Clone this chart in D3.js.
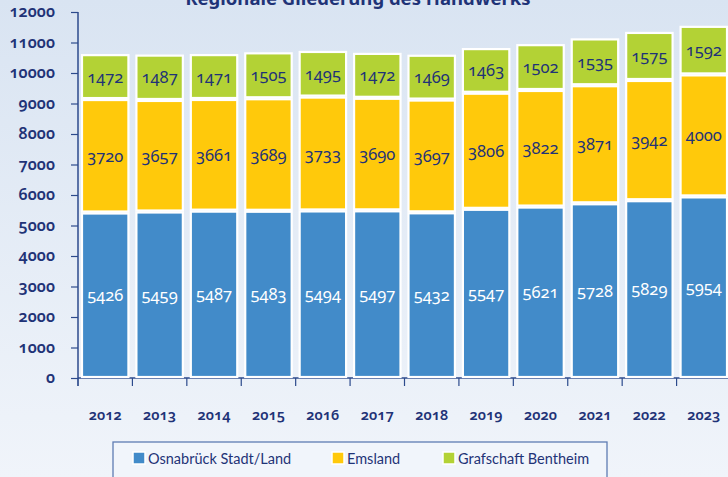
<!DOCTYPE html>
<html>
<head>
<meta charset="utf-8">
<script src="https://cdn.jsdelivr.net/npm/d3@7"></script>
<style>
  html, body { margin: 0; padding: 0; }
  body { width: 728px; height: 477px; overflow: hidden; }
  svg text { font-family: "Noto Sans", "Open Sans", sans-serif; font-variant-numeric: oldstyle-nums; font-feature-settings: "onum" 1; }
</style>
</head>
<body>
<svg id="chart"></svg>
<script>
var years = ["2012","2013","2014","2015","2016","2017","2018","2019","2020","2021","2022","2023"];
var osnabrueck = [5426,5459,5487,5483,5494,5497,5432,5547,5621,5728,5829,5954];
var emsland    = [3720,3657,3661,3689,3733,3690,3697,3806,3822,3871,3942,4000];
var bentheim   = [1472,1487,1471,1505,1495,1472,1469,1463,1502,1535,1575,1592];
var seriesNames = ["Osnabrück Stadt/Land", "Emsland", "Grafschaft Bentheim"];
var yTicks = [0,1000,2000,3000,4000,5000,6000,7000,8000,9000,10000,11000,12000];

var colors = ["#428bc9", "#ffc90b", "#b3d235"];
var navy = "#1f3377";

var width = 728, height = 477;
var svg = d3.select("svg#chart").attr("width", width).attr("height", height);

// background gradient
var grad = svg.append("defs").append("linearGradient")
    .attr("id", "bg").attr("x1", 0).attr("y1", 0).attr("x2", 0).attr("y2", 1);
grad.append("stop").attr("offset", "0%").attr("stop-color", "#d9e4f2");
grad.append("stop").attr("offset", "100%").attr("stop-color", "#f0f4fa");
svg.append("rect").attr("width", width).attr("height", height).attr("fill", "url(#bg)");

var x = d3.scaleBand().domain(years).range([78, 731]).paddingInner(0.11).paddingOuter(0.055);
var y = d3.scaleLinear().domain([0, 12000]).range([378, 12]);

// stacked data
var table = years.map(function(yr, i) {
  return { year: yr, a: osnabrueck[i], b: emsland[i], c: bentheim[i] };
});
var stack = d3.stack().keys(["a", "b", "c"])(table);

// title (cut off at the top, as in the original)
svg.append("text")
  .attr("x", 358).attr("y", 5)
  .attr("text-anchor", "middle")
  .attr("fill", navy)
  .style("font-size", "18.5px").style("font-weight", "bold")
  .text("Regionale Gliederung des Handwerks");

// y axis
var yAxis = svg.append("g").attr("transform", "translate(78,0)")
  .call(d3.axisLeft(y).tickValues(yTicks).tickSize(7).tickPadding(16).tickFormat(d3.format("d")));
yAxis.select(".domain").attr("stroke", "#2c4a8c").attr("stroke-width", 1.5).attr("d", "M0,12V378");
yAxis.selectAll(".tick line").attr("stroke", "#2c4a8c").attr("stroke-width", 1.2);
yAxis.selectAll(".tick text").attr("fill", navy).style("font-size", "16px").style("font-weight", "600")
  .attr("dy", "0.3em");

// x axis
var bounds = years.map(function(d) { return x(d) - x.step() * x.paddingInner() / 2; });
var xg = svg.append("g");
xg.append("line").attr("x1", 78).attr("x2", width).attr("y1", 378).attr("y2", 378)
  .attr("stroke", "#2c4a8c").attr("stroke-width", 1.5);
xg.selectAll("line.tk").data(bounds.concat([78])).enter().append("line")
  .attr("class", "tk")
  .attr("x1", function(d, i) { return i === 0 ? 78 : d; })
  .attr("x2", function(d, i) { return i === 0 ? 78 : d; })
  .attr("y1", 378).attr("y2", 386)
  .attr("stroke", "#2c4a8c").attr("stroke-width", 1.2);
xg.selectAll("text").data(years).enter().append("text")
  .attr("x", function(d) { return x(d) + x.bandwidth() / 2; })
  .attr("y", 420)
  .attr("text-anchor", "middle")
  .attr("fill", navy)
  .style("font-size", "14.5px").style("font-weight", "600")
  .text(function(d) { return d; });

// bars
var layers = svg.append("g").selectAll("g").data(stack).enter().append("g")
  .attr("fill", function(d, i) { return colors[i]; });

layers.selectAll("rect").data(function(d) { return d; }).enter().append("rect")
  .attr("x", function(d) { return x(d.data.year) + 1; })
  .attr("width", x.bandwidth() - 2)
  .attr("y", function(d) { return y(d[1]) + 1; })
  .attr("height", function(d) { return y(d[0]) - y(d[1]) - 2; })
  .attr("stroke", "#ffffff")
  .attr("stroke-width", 2.2);

layers.selectAll("text").data(function(d) { return d.map(function(p) { p.key = d.key; return p; }); })
  .enter().append("text")
  .attr("x", function(d) { return x(d.data.year) + x.bandwidth() / 2; })
  .attr("y", function(d) { return (y(d[0]) + y(d[1])) / 2 + 6; })
  .attr("text-anchor", "middle")
  .attr("fill", function(d) { return d.key === "a" ? "#ffffff" : navy; })
  .style("font-size", "16.5px")
  .text(function(d) { return d[1] - d[0]; });

// legend
var legend = svg.append("g");
legend.append("rect").attr("x", 113).attr("y", 442).attr("width", 494).attr("height", 50)
  .attr("fill", "#f1f5fb").attr("stroke", "#5f7cb3").attr("stroke-width", 1.3);
var legendX = [133, 332, 443];
var items = legend.selectAll("g.item").data(seriesNames).enter().append("g")
  .attr("transform", function(d, i) { return "translate(" + legendX[i] + ",452)"; });
items.append("rect").attr("width", 12).attr("height", 12)
  .attr("fill", function(d, i) { return colors[i]; })
  .attr("stroke", "#ffffff").attr("stroke-width", 1.5);
items.append("text").attr("x", 15).attr("y", 12)
  .attr("fill", navy)
  .style("font-family", "Lato, 'Noto Sans', sans-serif")
  .style("font-size", "14.5px")
  .text(function(d) { return d; });
</script>
</body>
</html>
